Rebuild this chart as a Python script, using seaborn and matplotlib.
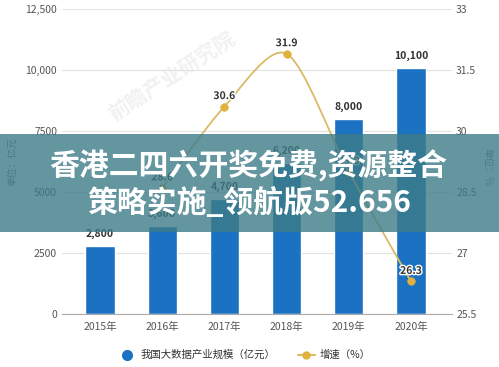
import numpy as np
import pandas as pd
import matplotlib
matplotlib.use("Agg")
import matplotlib.pyplot as plt
import matplotlib.patheffects as pe
from matplotlib.path import Path
from matplotlib.patches import PathPatch, Rectangle
from matplotlib.lines import Line2D
import seaborn as sns

# data
years = ["2015年", "2016年", "2017年", "2018年", "2019年", "2020年"]
scale = [2800, 3600, 4700, 6200, 8000, 10100]
scale_labels = ["2,800", "3,600", "4,700", "6,200", "8,000", "10,100"]
growth_years = ["2016年", "2017年", "2018年", "2019年", "2020年"]
growth = [28.6, 30.6, 31.9, 29.0, 26.3]
growth_labels = ["28.6", "30.6", "31.9", "29.0", "26.3"]
left_ticks = [0, 2500, 5000, 7500, 10000, 12500]
left_tick_labels = ["0", "2500", "5000", "7500", "10,000", "12,500"]
right_ticks = [25.5, 27, 28.5, 30, 31.5, 33]
right_tick_labels = ["25.5", "27", "28.5", "30", "31.5", "33"]

bar_color = "#1b72c2"
line_color = "#d9bb66"
marker_color = "#e0b13c"
tick_color = "#555555"

sns.set_style("white")
plt.rcParams["font.family"] = ["Noto Sans CJK SC", "DejaVu Sans"]

df = pd.DataFrame({"year": years, "scale": scale})

fig = plt.figure(figsize=(4.99, 3.67), dpi=100)
ax = fig.add_axes([62 / 499, 53 / 367, 390 / 499, 305 / 367])

sns.barplot(data=df, x="year", y="scale", color=bar_color, width=0.47,
            saturation=1, ax=ax, zorder=2)
ax.set_xlim(-0.61, 5.66)
ax.set_ylim(0, 12500)
ax.set_yticks(left_ticks)
ax.set_yticklabels(left_tick_labels)
ax.yaxis.grid(True, color="#e2e2e2", lw=0.8)
ax.set_axisbelow(True)
for s in ["left", "right", "top"]:
    ax.spines[s].set_visible(False)
ax.spines["bottom"].set_color("#aaaaaa")
ax.spines["bottom"].set_zorder(3)
ax.tick_params(axis="both", length=0, labelsize=7.5, colors=tick_color)
ax.tick_params(axis="y", pad=3.5)
ax.tick_params(axis="x", pad=6)
ax.set_xlabel("")
ax.set_ylabel("")

# bar value labels
for i, (v, lbl) in enumerate(zip(scale, scale_labels)):
    ax.annotate(lbl, (i, v), xytext=(0, 5), textcoords="offset points",
                ha="center", va="bottom", fontsize=7.5, fontweight="bold",
                color="#333333", zorder=4)

# watermark
ax.text(0.28, 0.78, "前瞻产业研究院", transform=ax.transAxes, rotation=33,
        fontsize=15, color="#e4e4e4", alpha=0.5, ha="center", va="center",
        fontweight="bold", zorder=1)

# growth line on right axis
ax2 = ax.twinx()
ax2.set_ylim(25.5, 33)
ax2.set_yticks(right_ticks)
ax2.set_yticklabels(right_tick_labels)
for s in ["left", "right", "top", "bottom"]:
    ax2.spines[s].set_visible(False)
ax2.tick_params(axis="y", length=0, labelsize=7.5, colors=tick_color, pad=3)

gx = np.array([years.index(y) for y in growth_years], dtype=float)
gy = np.array(growth)
pts = np.column_stack([gx, gy])
ext = np.vstack([pts[0], pts, pts[-1]])
verts = [tuple(pts[0])]
codes = [Path.MOVETO]
k = 0.14
for i in range(len(pts) - 1):
    p0, p1, p2, p3 = ext[i], ext[i + 1], ext[i + 2], ext[i + 3]
    c1 = p1 + (p2 - p0) * k
    c2 = p2 - (p3 - p1) * k
    verts += [tuple(c1), tuple(c2), tuple(p2)]
    codes += [Path.CURVE4] * 3
ax2.add_patch(PathPatch(Path(verts, codes), fill=False, edgecolor=line_color,
                        lw=1.3, zorder=3))
sns.scatterplot(x=gx, y=gy, color=marker_color, s=30, edgecolor=marker_color,
                ax=ax2, zorder=4, legend=False)
for x, y, lbl in zip(gx, gy, growth_labels):
    ax2.annotate(lbl, (x, y), xytext=(0, 4), textcoords="offset points",
                 ha="center", va="bottom", fontsize=7.5, fontweight="bold",
                 color="#333333", zorder=5,
                 path_effects=[pe.withStroke(linewidth=2, foreground="white")])

# axis titles
fig.text(12 / 499, 1 - 162 / 367, "单位：亿元", rotation=90, ha="center",
         va="center", fontsize=7, color="#777777")
fig.text(487 / 499, 1 - 167 / 367, "单位：%", rotation=270, ha="center",
         va="center", fontsize=7, color="#777777")

# legend
handles = [
    Line2D([], [], marker="o", color=bar_color, linestyle="none", markersize=7),
    Line2D([], [], marker="o", color=line_color, markerfacecolor=marker_color,
           markeredgecolor=marker_color, markersize=5, lw=1.5),
]
fig.legend(handles, ["我国大数据产业规模（亿元）", "增速（%）"], loc="center",
           bbox_to_anchor=(0.49, 12 / 367), ncol=2, frameon=False, fontsize=7.5,
           handlelength=1.6, handletextpad=0.5, columnspacing=2.2,
           labelcolor="#333333")

# overlay banner
fig.add_artist(Rectangle((0, 135 / 367), 1, 98 / 367, transform=fig.transFigure,
                         facecolor="#3d7c88", alpha=0.8, edgecolor="none",
                         zorder=10))
fig.text(0.497, 1 - 166 / 367, "香港二四六开奖免费,资源整合", ha="center",
         va="center", fontsize=21.5, fontweight="bold", color="white", zorder=11)
fig.text(0.5, 1 - 203 / 367, "策略实施_领航版52.656", ha="center",
         va="center", fontsize=21.5, fontweight="bold", color="white", zorder=11)

fig.savefig("out.png", dpi=100)
